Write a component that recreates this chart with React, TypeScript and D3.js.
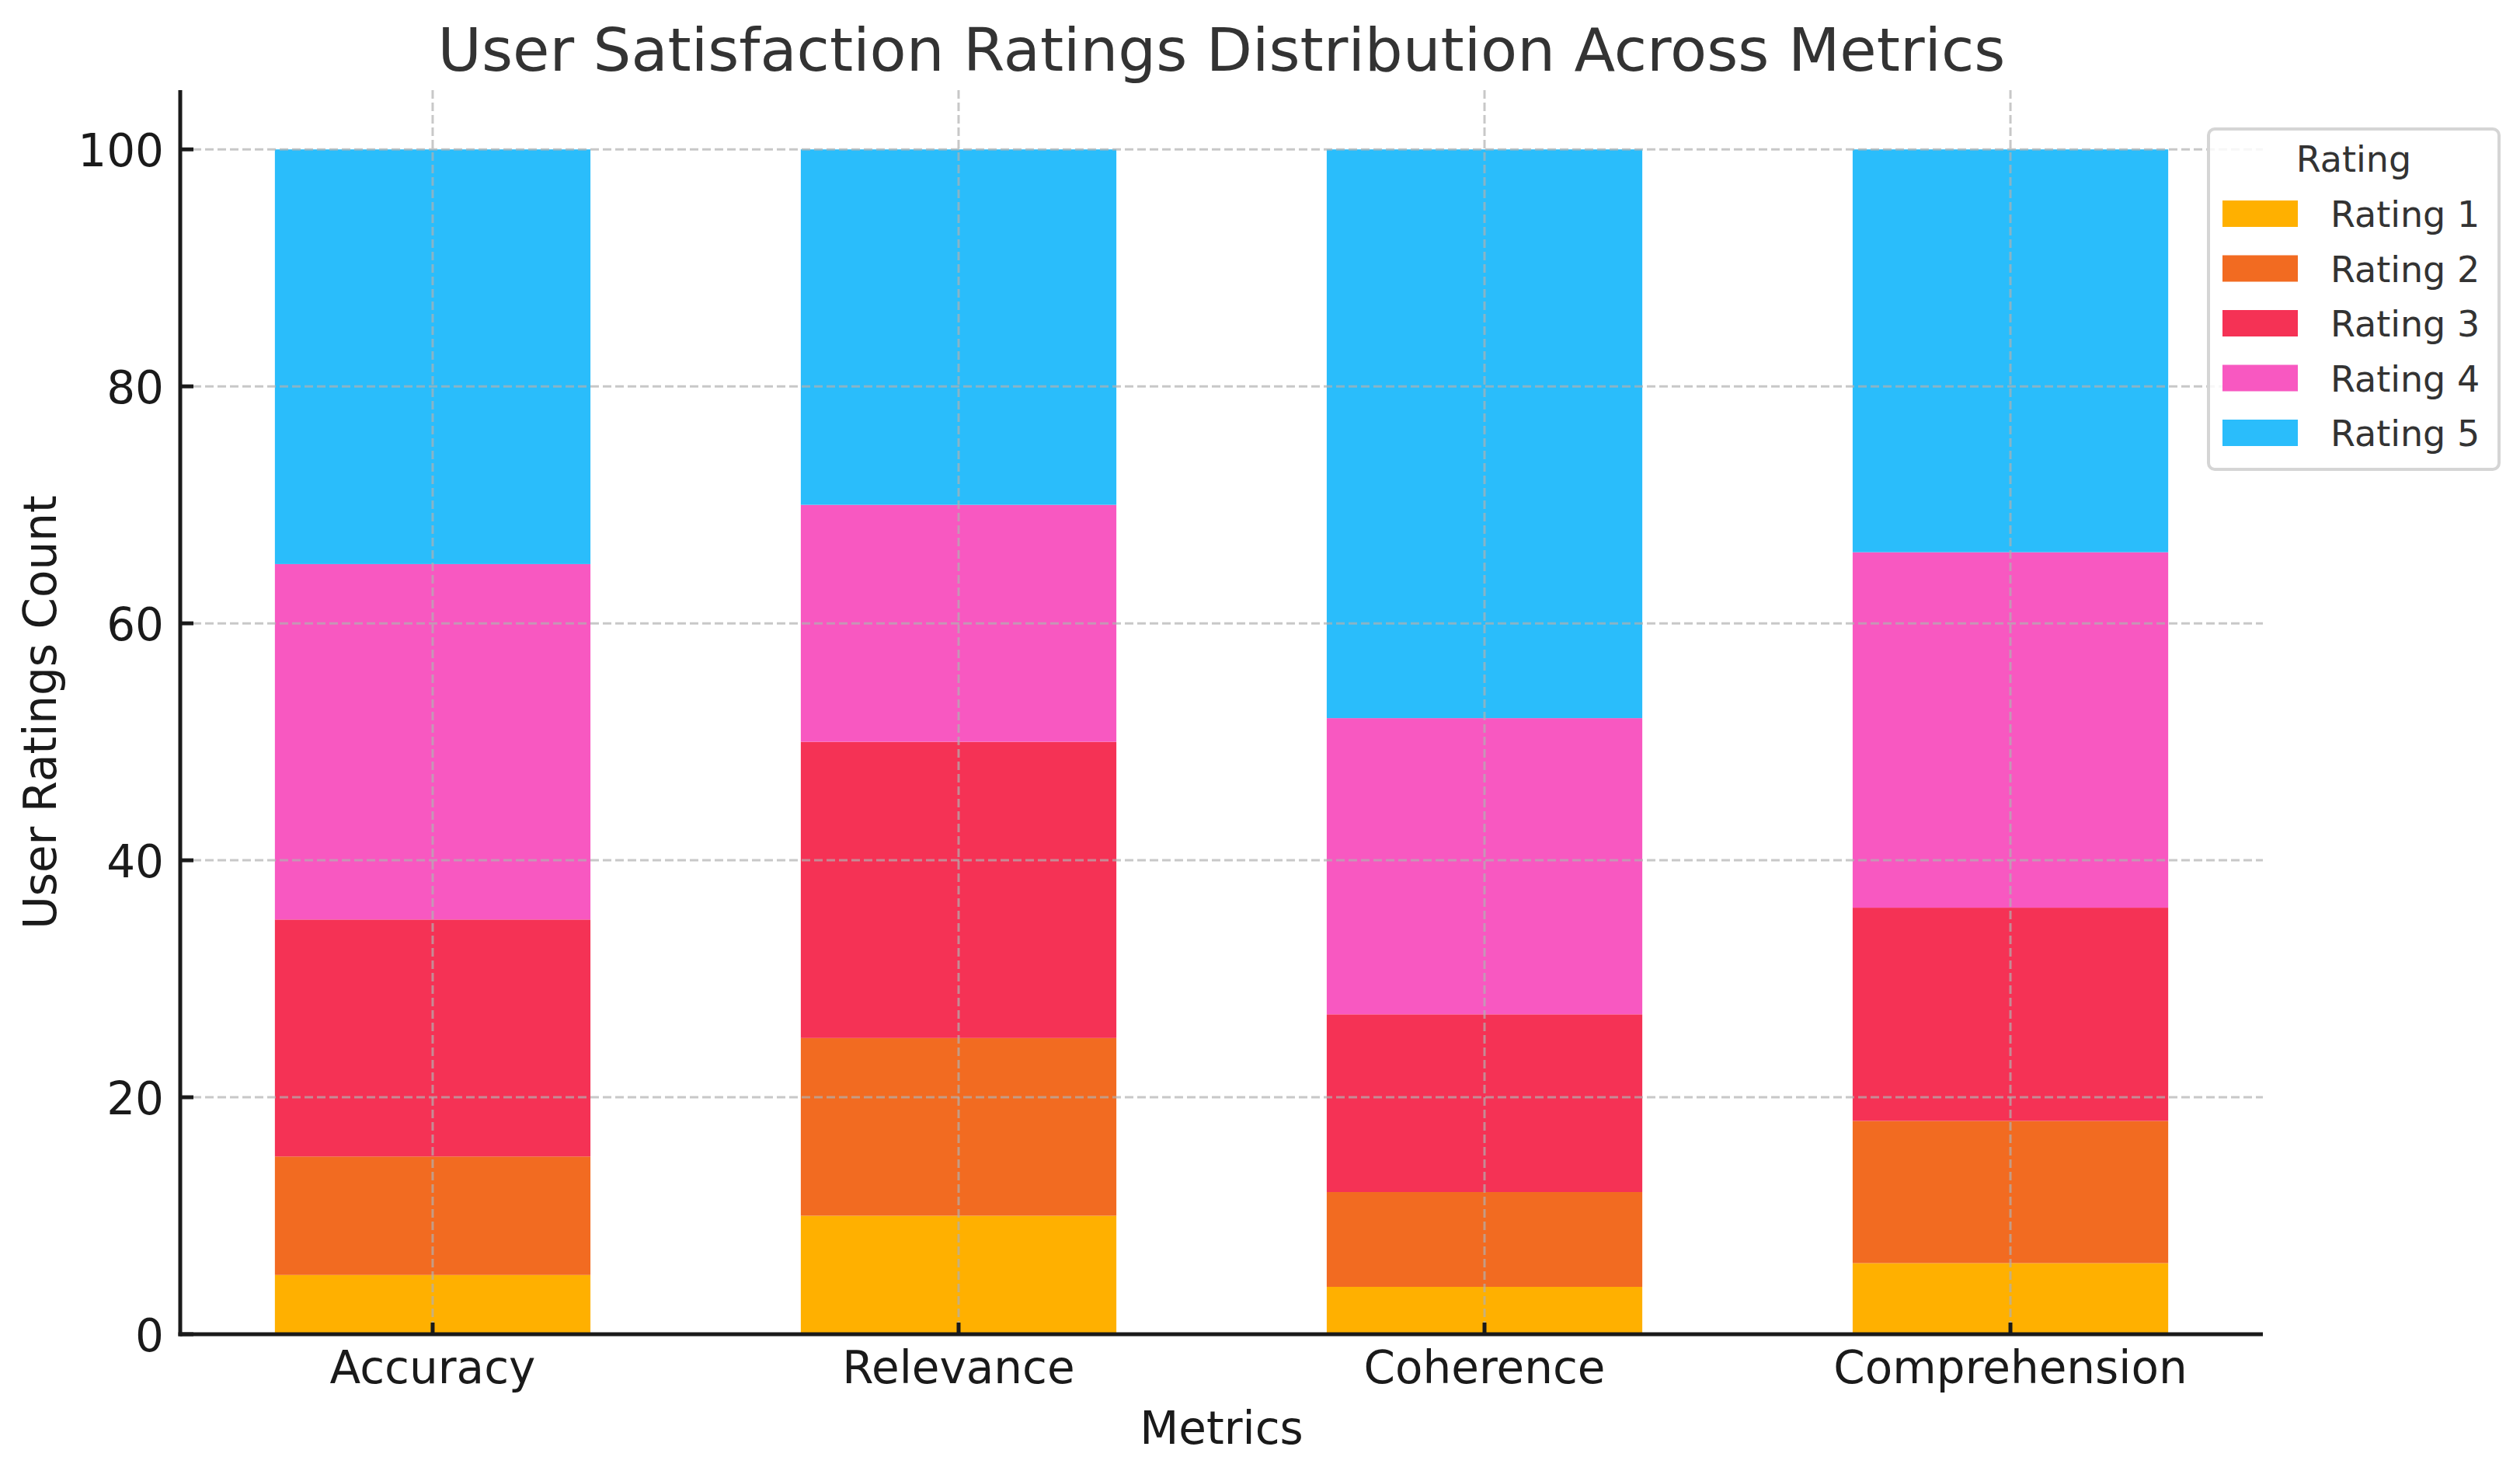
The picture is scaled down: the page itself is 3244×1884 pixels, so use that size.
import React from 'react';
import * as d3 from 'd3';

const metrics = ['Accuracy', 'Relevance', 'Coherence', 'Comprehension'];
const ratingKeys = ['Rating 1', 'Rating 2', 'Rating 3', 'Rating 4', 'Rating 5'];
const rating1 = [5, 10, 4, 6];
const rating2 = [10, 15, 8, 12];
const rating3 = [20, 25, 15, 18];
const rating4 = [30, 20, 25, 30];
const rating5 = [35, 30, 48, 34];
const yTicks = [0, 20, 40, 60, 80, 100];
const colors = ['#FFB000', '#F26B21', '#F53255', '#F858C1', '#2ABDFB'];

if (typeof document !== 'undefined') document.body.style.margin = '0';

const W = 3244;
const H = 1884;
const font = 'DejaVu Sans, sans-serif';

export default function App() {
  const series = [rating1, rating2, rating3, rating4, rating5];
  const rows = metrics.map((m, i) => {
    const r: Record<string, any> = { metric: m };
    ratingKeys.forEach((k, j) => (r[k] = series[j][i]));
    return r;
  });
  const stacked = d3.stack<any>().keys(ratingKeys)(rows);

  const left = 232, right = 2913, top = 116, bottom = 1717;
  const x = d3.scaleBand<string>().domain(metrics).range([left, right]).paddingInner(0.4).paddingOuter(0.18);
  const y = d3.scaleLinear().domain([0, 105]).range([bottom, top]);

  return (
    <svg width={W} height={H} viewBox={`0 0 ${W} ${H}`} style={{ display: 'block', background: '#fff' }} fontFamily={font}>
      {/* bars */}
      {stacked.map((s, j) => (
        <g key={s.key} fill={colors[j]}>
          {s.map((d, i) => (
            <rect
              key={metrics[i]}
              x={x(metrics[i])}
              y={y(d[1])}
              width={x.bandwidth()}
              height={y(d[0]) - y(d[1])}
            />
          ))}
        </g>
      ))}

      {/* grid, above the bars */}
      <g stroke="#b0b0b0" strokeOpacity={0.7} strokeWidth={3} strokeDasharray="11,5">
        {yTicks.filter((t) => t > 0).map((t) => (
          <line key={t} x1={left} x2={right} y1={y(t)} y2={y(t)} />
        ))}
        {metrics.map((m) => {
          const cx = (x(m) ?? 0) + x.bandwidth() / 2;
          return <line key={m} x1={cx} x2={cx} y1={top} y2={bottom} />;
        })}
      </g>

      {/* axes */}
      <g stroke="#1a1a1a" strokeWidth={5}>
        <line x1={left} x2={left} y1={top} y2={bottom + 2.5} />
        <line x1={left - 2.5} x2={right} y1={bottom} y2={bottom} />
        {yTicks.map((t) => (
          <line key={t} x1={left} x2={left + 17} y1={y(t)} y2={y(t)} />
        ))}
        {metrics.map((m) => {
          const cx = (x(m) ?? 0) + x.bandwidth() / 2;
          return <line key={m} x1={cx} x2={cx} y1={bottom} y2={bottom - 15} />;
        })}
      </g>

      <g fill="#1a1a1a" fontSize={58}>
        {yTicks.map((t) => (
          <text key={t} x={left - 21} y={y(t) + 2} textAnchor="end" dominantBaseline="central">
            {t}
          </text>
        ))}
        {metrics.map((m) => (
          <text key={m} x={(x(m) ?? 0) + x.bandwidth() / 2} y={1780} textAnchor="middle">
            {m}
          </text>
        ))}
        <text x={(left + right) / 2} y={1858} textAnchor="middle">
          Metrics
        </text>
        <text transform={`translate(72,${(top + bottom) / 2}) rotate(-90)`} textAnchor="middle">
          User Ratings Count
        </text>
      </g>

      <text x={(left + right) / 2} y={91} textAnchor="middle" fontSize={77} fill="#333">
        User Satisfaction Ratings Distribution Across Metrics
      </text>

      {/* legend */}
      <g>
        <rect x={2843} y={166} width={374} height={438} rx={8} fill="#fff" fillOpacity={0.85} stroke="#d5d5d5" strokeWidth={4} />
        <text x={3030} y={221} textAnchor="middle" fontSize={46} fill="#333">
          Rating
        </text>
        {ratingKeys.map((k, j) => (
          <g key={k} transform={`translate(0,${258 + j * 70.5})`}>
            <rect x={2861} y={0} width={97} height={34} fill={colors[j]} />
            <text x={3000} y={34} fontSize={46} fill="#333">
              {k}
            </text>
          </g>
        ))}
      </g>
    </svg>
  );
}
